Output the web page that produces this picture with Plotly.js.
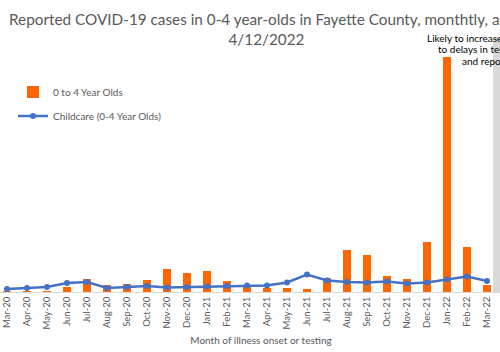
<!DOCTYPE html>
<html>
<head>
<meta charset="utf-8">
<script src="https://cdn.plot.ly/plotly-3.0.1.min.js"></script>
<style>
html,body{margin:0;padding:0;overflow:hidden;background:#fff;}
#chart{width:534px;height:352px;}
</style>
</head>
<body>
<div id="chart"></div>
<script>
// Data (relative case counts)
const months = ["Mar-20","Apr-20","May-20","Jun-20","Jul-20","Aug-20","Sep-20","Oct-20","Nov-20","Dec-20","Jan-21","Feb-21","Mar-21","Apr-21","May-21","Jun-21","Jul-21","Aug-21","Sep-21","Oct-21","Nov-21","Dec-21","Jan-22","Feb-22","Mar-22"];
const cases0to4 = [2,2,2,10,26,14,16,24,46,38,42,22,12,8,8,6,28,84,74,32,26,100,470,90,14];
const childcare = [6,8,10,18,20,8,10,12,9,10,11,12,13,13,19,35,23,20,19,21,17,19,25,31,22];
const titleLines = ["Reported COVID-19 cases in 0-4 year-olds in Fayette County, monthtly, as of", "4/12/2022"];
const noteLines = ["Likely to increase due", "to delays in testing", "and reporting"];

const FONT = "Lato, 'Open Sans', sans-serif";
const GREY = "#595959";
const PW = 522, PH = 262, BASE = 292; // plot area geometry in px

const traces = [
  {
    type: "bar",
    name: "0 to 4 Year Olds",
    x: months,
    y: cases0to4,
    marker: {color: "#FF6600"},
    legendgroup: "a"
  },
  {
    type: "scatter",
    mode: "lines+markers",
    name: "Childcare (0-4 Year Olds)",
    x: months,
    y: childcare,
    line: {color: "#4472C4", width: 2.5},
    marker: {color: "#4472C4", size: 6},
    legendgroup: "b"
  }
];

const noteY = [37.7, 49.3, 61];
const annotations = [
  {xref: "paper", yref: "paper", x: 267/PW, y: (BASE-8)/PH, xanchor: "center", yanchor: "top",
   align: "center", showarrow: false,
   text: titleLines.join("<br>"),
   font: {family: FONT, size: 15.3, color: GREY}}
].concat(noteLines.map((t, i) => ({
  xref: "paper", yref: "paper", x: 523/PW, y: (BASE-noteY[i])/PH, xanchor: "right", yanchor: "middle",
  showarrow: false, text: t, font: {family: FONT, size: 10, color: "#000"}
})));

const layout = {
  width: 534,
  height: 352,
  margin: {l: 0, r: 12, t: 30, b: 60},
  paper_bgcolor: "#fff",
  plot_bgcolor: "#fff",
  font: {family: FONT, color: GREY, size: 10},
  bargap: 0.6,
  xaxis: {
    type: "category",
    range: [-0.35, 25.75],
    tickangle: -90,
    tickfont: {family: FONT, size: 9.5, color: GREY},
    showline: true,
    linecolor: "#D9D9D9",
    linewidth: 1,
    showgrid: false,
    ticks: "",
    zeroline: false,
    fixedrange: true,
    title: {text: "Month of illness onset or testing", font: {family: FONT, size: 10, color: GREY}, standoff: 8}
  },
  yaxis: {
    range: [0, 524],
    visible: false,
    fixedrange: true
  },
  showlegend: true,
  legend: {
    x: 13/PW, xanchor: "left",
    y: 0.819, yanchor: "top",
    traceorder: "grouped",
    tracegroupgap: 5,
    font: {family: FONT, size: 10, color: GREY},
    bgcolor: "rgba(0,0,0,0)",
    itemwidth: 30
  },
  shapes: [
    {type: "rect", xref: "x", yref: "paper", x0: 24.3, x1: 25.3, y0: 0, y1: (BASE-38)/PH,
     fillcolor: "#D9D9D9", line: {width: 0}, layer: "below"}
  ],
  annotations: annotations
};

Plotly.newPlot("chart", traces, layout, {displayModeBar: false, staticPlot: true});
</script>
</body>
</html>
